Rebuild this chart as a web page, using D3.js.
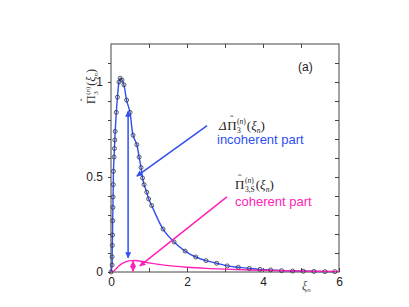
<!DOCTYPE html>
<html lang="en">
<head>
    <meta charset="UTF-8">
    <title>Pi hat</title>
    <script src="https://cdn.jsdelivr.net/npm/d3@7"></script>
    <style>
    html, body{padding: 0; margin: 0; background-color: #fff;}
    .marco{ width: 409px; height: 307px; }
    </style>
</head>
<body>
    <div class="marco"></div>

    <script>
    // total (circles)
    const circXi = [0, 0.03, 0.03, 0.035, 0.04, 0.045, 0.05, 0.055, 0.06, 0.065, 0.08, 0.09, 0.1, 0.11, 0.14, 0.17, 0.21, 0.24,
                    0.29, 0.34, 0.41, 0.5, 0.58, 0.68, 0.74, 0.79, 0.83, 0.87, 0.94, 0.99, 1.07, 1.37, 1.66, 1.95, 2.23, 2.5, 2.78,
                    3.06, 3.35, 3.64, 3.92, 4.2, 4.49, 4.78, 5.06, 5.34, 5.63, 5.89]
    const circVal = [0, 0.037, 0.08, 0.14, 0.195, 0.27, 0.34, 0.395, 0.46, 0.53, 0.605, 0.65, 0.695, 0.74, 0.84, 0.92, 1.0, 1.02,
                    1.01, 0.985, 0.905, 0.84, 0.72, 0.67, 0.605, 0.55, 0.495, 0.46, 0.42, 0.385, 0.35, 0.226, 0.158, 0.11, 0.079, 0.06, 0.046,
                    0.032, 0.025, 0.019, 0.014, 0.011, 0.007, 0.005, 0.004, 0.003, 0.002, 0.002]
    // coherent part (pink line)
    const cohXi  = [0, 0.05, 0.1, 0.2, 0.3, 0.4, 0.55, 0.7, 0.85, 1.0, 1.4, 2.0, 2.5, 3.0, 4.0, 5.0, 6.0]
    const cohVal = [0, 0.002, 0.01, 0.03, 0.045, 0.055, 0.06, 0.059, 0.054, 0.048, 0.036, 0.025, 0.019, 0.015, 0.009, 0.005, 0.003]

    const xLabels = [0, 2, 4, 6]
    const yLabels = [0, 0.5, 1]

    var W = 409, H = 307,
        margin = { top: 44, left: 111, bottom: 35, right: 70 },
        innerWidth = W - margin.left - margin.right,
        innerHeight = H - margin.top - margin.bottom,
        azul = "#2f4ff2",
        rosa = "#ff22b8",
        eje = "#444"

    var svg = d3.select(".marco").append("svg")
        .attr("width", W)
        .attr("height", H)

    var g = svg.append("g")
        .attr("transform", `translate(${margin.left}, ${margin.top})`)

    var x = d3.scaleLinear().domain([0, 6]).range([0, innerWidth]),
        y = d3.scaleLinear().domain([0, 1.2]).range([innerHeight, 0])

    var defs = svg.append("defs")
    function flecha(id, color){
        defs.append("marker")
            .attr("id", id)
            .attr("viewBox", "0 0 10 10")
            .attr("refX", 9).attr("refY", 5)
            .attr("markerWidth", 7).attr("markerHeight", 6)
            .attr("markerUnits", "userSpaceOnUse")
            .attr("orient", "auto-start-reverse")
            .append("path").attr("d", "M0,0 L10,5 L0,10 z").attr("fill", color)
    }
    flecha("fa", azul)
    flecha("fr", rosa)

    // Ejes
    var fuente = "'Liberation Sans', Arial, sans-serif"
    function estilo(sel){
        sel.select(".domain").remove()
        sel.selectAll("line").attr("stroke", eje)
        sel.selectAll("text").attr("font-family", fuente).attr("font-size", 12).attr("fill", "#222")
        sel.selectAll("text").filter(function(){ return this.textContent === "" }).remove()
    }
    // bottom: ticks inward
    g.append("g").attr("transform", `translate(0, ${innerHeight})`)
        .call(d3.axisBottom(x).tickValues(d3.range(0, 7)).tickSize(-4).tickPadding(5)
            .tickFormat(d => xLabels.includes(d) ? d : ""))
        .call(estilo)
    g.append("g")
        .call(d3.axisTop(x).tickValues(d3.range(1, 6)).tickSize(-4).tickFormat(""))
        .call(estilo)
    // left: ticks outward
    g.append("g")
        .call(d3.axisLeft(y).tickValues(d3.range(0, 12).map(d => d / 10)).tickSize(3).tickPadding(5)
            .tickFormat(d => yLabels.includes(d) ? d : ""))
        .call(estilo)
    g.append("g").attr("transform", `translate(${innerWidth}, 0)`)
        .call(d3.axisRight(y).tickValues(d3.range(1, 12).map(d => d / 10)).tickSize(-4).tickFormat(""))
        .call(estilo)

    g.append("rect").attr("width", innerWidth).attr("height", innerHeight)
        .attr("fill", "none").attr("stroke", eje).attr("stroke-width", 1)

    // curvas
    var linea = d3.line().x(d => x(d[0])).y(d => y(d[1])).curve(d3.curveCatmullRom)
    var total = circXi.map((v, i) => [v, circVal[i]])
    var coh = cohXi.map((v, i) => [v, cohVal[i]])

    g.append("path").datum(total).attr("d", linea)
        .attr("fill", "none").attr("stroke", azul).attr("stroke-width", 1.4)
    g.append("path").datum(coh).attr("d", linea)
        .attr("fill", "none").attr("stroke", rosa).attr("stroke-width", 1.4)

    g.selectAll("circle").data(total).enter().append("circle")
        .attr("cx", d => x(d[0])).attr("cy", d => y(d[1])).attr("r", 2)
        .attr("fill", "none").attr("stroke", "#333").attr("stroke-width", 0.8)

    // flechas
    function seg(a, b, color, id, dos){
        var l = g.append("line")
            .attr("x1", x(a[0])).attr("y1", y(a[1]))
            .attr("x2", x(b[0])).attr("y2", y(b[1]))
            .attr("stroke", color).attr("stroke-width", 1.5)
            .attr("marker-end", `url(#${id})`)
        if (dos) l.attr("marker-start", `url(#${id})`)
    }
    seg([0.45, 0.845], [0.45, 0.075], azul, "fa", true)
    seg([2.53, 0.77], [0.68, 0.505], azul, "fa", false)
    seg([0.58, 0.057], [0.58, 0.003], rosa, "fr", true)
    seg([3.05, 0.395], [0.76, 0.032], rosa, "fr", false)

    // textos
    var serif = "'Liberation Serif', 'DejaVu Serif', serif"
    // Pi con sombrero, devuelve el ancho
    function pi(par, px, py, size, color){
        var t = par.append("text").attr("x", px).attr("y", py)
            .attr("font-family", serif).attr("font-size", size).attr("fill", color).text("\u03A0")
        var w = t.node().getComputedTextLength()
        par.append("text").attr("x", px + w / 2).attr("y", py - size * 0.56)
            .attr("text-anchor", "middle").attr("font-family", serif)
            .attr("font-size", size * 0.8).attr("fill", color).text("\u02C6")
        return w
    }
    function piHat(par, px, py, pre, sup, sub, size, color){
        var small = size * 0.58
        var w0 = 0
        if (pre){
            var p = par.append("text").attr("x", px).attr("y", py)
                .attr("font-family", serif).attr("font-size", size).attr("fill", color)
                .attr("font-style", "italic").text(pre)
            w0 = p.node().getComputedTextLength() + 0.5
        }
        var w = w0 + pi(par, px + w0, py, size, color)
        var s1 = par.append("text").attr("x", px + w + 0.5).attr("y", py - size * 0.45)
            .attr("font-family", serif).attr("font-size", small).attr("fill", color)
        s1.append("tspan").text("(")
        s1.append("tspan").attr("font-style", "italic").text(sup)
        s1.append("tspan").text(")")
        var s2 = par.append("text").attr("x", px + w + 0.5).attr("y", py + size * 0.22)
            .attr("font-family", serif).attr("font-size", small).attr("fill", color).text(sub)
        var w2 = Math.max(s1.node().getComputedTextLength(), s2.node().getComputedTextLength())
        var t2 = par.append("text").attr("x", px + w + w2 + 1.5).attr("y", py)
            .attr("font-family", serif).attr("font-size", size).attr("fill", color)
        t2.append("tspan").text("(")
        t2.append("tspan").attr("font-style", "italic").text("\u03BE")
        t2.append("tspan").attr("font-style", "italic").attr("font-size", small).attr("dy", 3).text("n")
        t2.append("tspan").attr("dy", -3).text(")")
    }
    piHat(svg, 219, 130, "\u0394", "n", "3", 13, "#222")
    svg.append("text").attr("x", 217).attr("y", 144).attr("font-family", fuente)
        .attr("font-size", 13).attr("fill", azul).text("incoherent part")
    piHat(svg, 235, 189, "", "n", "3,S", 13, "#222")
    svg.append("text").attr("x", 235).attr("y", 206).attr("font-family", fuente)
        .attr("font-size", 13).attr("fill", rosa).text("coherent part")

    svg.append("text").attr("x", 298).attr("y", 71).attr("font-family", fuente)
        .attr("font-size", 12).attr("fill", "#222").text("(a)")

    // etiqueta eje x
    var ex = svg.append("text").attr("x", 302).attr("y", 290)
        .attr("font-family", serif).attr("font-size", 12).attr("fill", "#444").attr("font-style", "italic")
    ex.append("tspan").text("\u03BE")
    ex.append("tspan").attr("font-size", 7).attr("dy", 2).text("n")

    // etiqueta eje y (rotada)
    var ey = svg.append("g").attr("transform", "translate(95, 104) rotate(-90)")
    piHat(ey, 0, 0, "", "n", "3", 12, "#333")
    </script>
</body>
</html>
